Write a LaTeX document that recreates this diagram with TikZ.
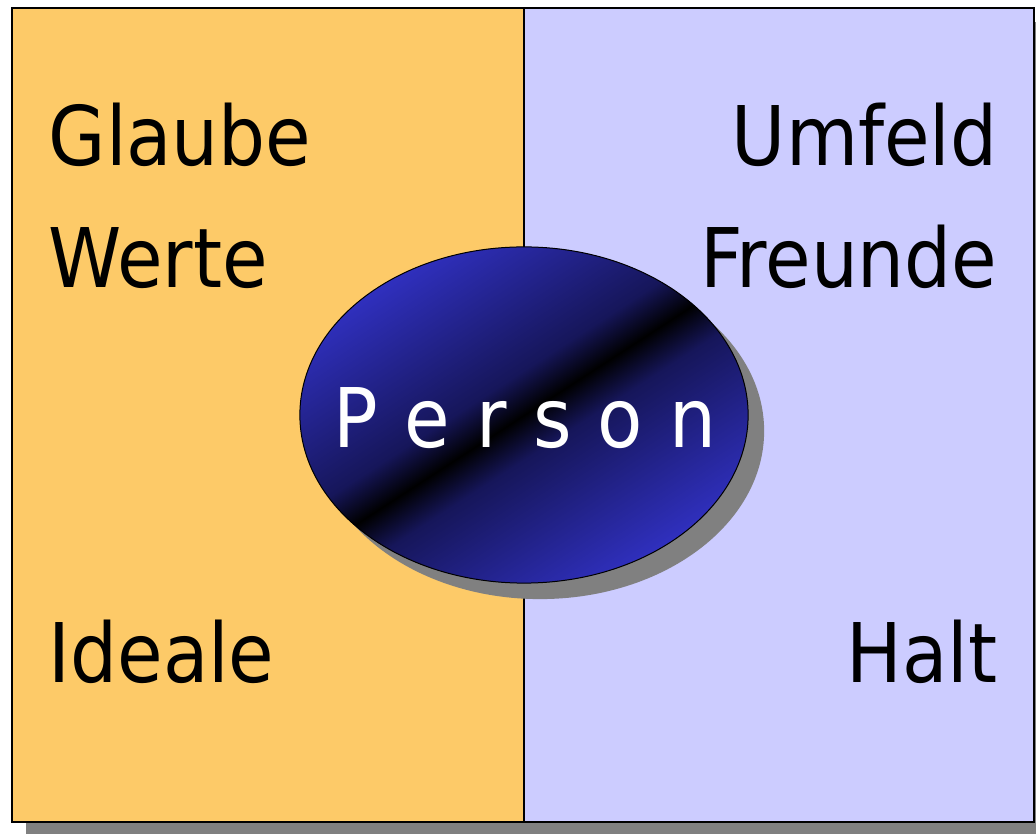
\documentclass[tikz,border=0pt]{standalone}
\usepackage{fontspec}
\setmainfont{DejaVu Sans Condensed}
\usetikzlibrary{shapes.geometric, shadows}

\definecolor{glaubeorange}{RGB}{253,202,104}
\definecolor{umfeldlila}{RGB}{204,204,255}
\definecolor{personblue}{RGB}{48,48,192}
\definecolor{persondark}{RGB}{22,22,90}
\definecolor{shadowgray}{RGB}{128,128,128}

% blue - black - blue band, rotated across the ellipse
\pgfdeclareverticalshading{personshade}{100bp}{%
    color(0bp)=(personblue); color(25bp)=(personblue);
    color(45bp)=(persondark); color(50bp)=(black); color(55bp)=(persondark);
    color(75bp)=(personblue); color(100bp)=(personblue)}

\begin{document}
\begin{tikzpicture}[
        x=0.01cm, y=-0.01cm,
        every node/.style={font=\fontsize{23.4}{28}\selectfont, inner sep=0pt},
        leftword/.style={anchor=base west},
        rightword/.style={anchor=base east}
    ]
    \clip (0,0) rectangle (1036,834);

% ---------- frame with shadow ----------
    \fill[shadowgray] (26,22) rectangle (1050,838);
    \fill[glaubeorange] (12,8) rectangle (524,822);
    \fill[umfeldlila] (524,8) rectangle (1034,822);
    \draw[line width=0.025cm] (12,8) rectangle (1034,822);
    \draw[line width=0.02cm] (524,8) -- (524,822);

% ---------- left half ----------
    \node[leftword] (glaube) at (48,166) {Glaube};
    \node[leftword] (werte) at (48,288) {Werte};
    \node[leftword] (ideale) at (48,683) {Ideale};

% ---------- right half ----------
    \node[rightword] (umfeld) at (998,166) {Umfeld};
    \node[rightword] (freunde) at (998,288) {Freunde};
    \node[rightword] (halt) at (998,683) {Halt};

% ---------- centre ellipse ----------
    \node[ellipse, draw=black, line width=0.01cm,
          minimum width=4.48cm, minimum height=3.36cm,
          shading=personshade, shading angle=33,
          drop shadow={shadow xshift=0.16cm, shadow yshift=-0.16cm,
                       fill=shadowgray, opacity=1}] (person) at (524,415) {};
    \node[text=white, anchor=base] (personlabel) at (525,448)
        {\spaceskip=1.12\fontdimen2\font P e r s o n};

\end{tikzpicture}
\end{document}
